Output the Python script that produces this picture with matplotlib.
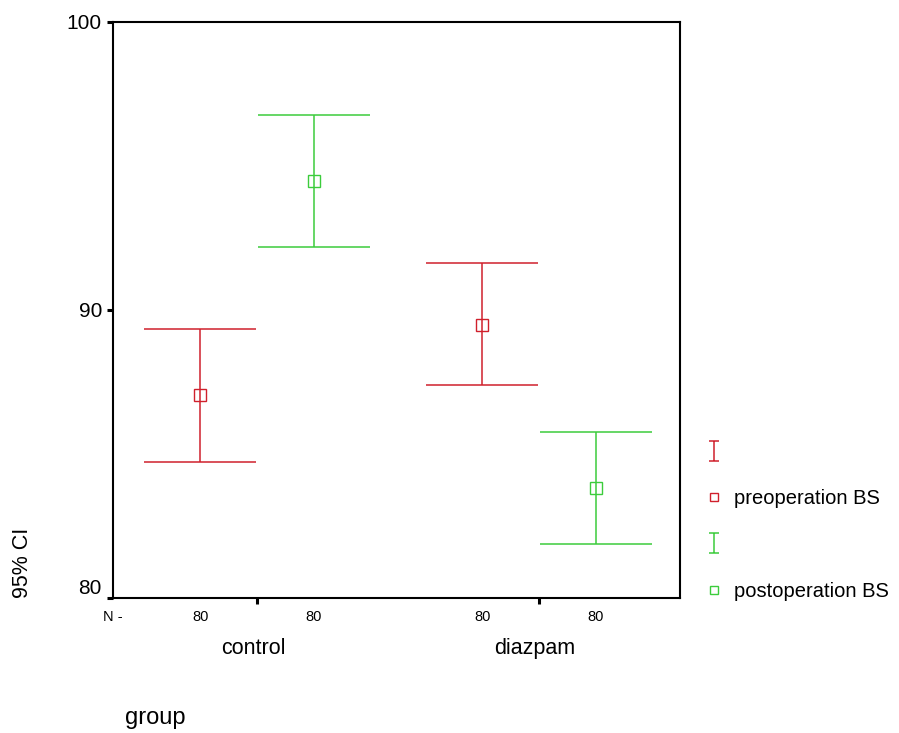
import matplotlib
matplotlib.use('Agg')
import matplotlib.pyplot as plt
import matplotlib.transforms as mtransforms
from matplotlib.path import Path
from matplotlib.lines import Line2D
import numpy as np

plt.rcParams['font.family'] = ['Liberation Sans', 'DejaVu Sans']

groups = ['control', 'diazpam']
series = ['preoperation BS', 'postoperation BS']
colors = ['#d0202c', '#3ccc3c']
# mean, lower and upper limit of the 95% CI, per series, per group
means = [[87.05, 89.48], [94.48, 83.82]]
lower = [[84.72, 87.40], [92.19, 81.88]]
upper = [[89.34, 91.63], [96.77, 85.76]]
counts = [[80, 80], [80, 80]]
yticks = [80, 90, 100]

# "I" shaped marker for the error bar legend entries
ibar = Path([(-0.5, -1), (0.5, -1), (0, -1), (0, 1), (-0.5, 1), (0.5, 1)],
            [Path.MOVETO, Path.LINETO, Path.MOVETO, Path.LINETO,
             Path.MOVETO, Path.LINETO])

fig = plt.figure(figsize=(8.99, 7.33), dpi=100)
ax = fig.add_axes([113 / 899, 135 / 733, 567 / 899, 576 / 733])

xpos = np.arange(1, len(groups) + 1)
offsets = [-0.202, 0.202]
handles = []
labels = []
for i, name in enumerate(series):
    m = np.array(means[i])
    lo = np.array(lower[i])
    hi = np.array(upper[i])
    x = xpos + offsets[i]
    ax.errorbar(x, m, yerr=[m - lo, hi - m], fmt='none',
                ecolor=colors[i], elinewidth=1.1, capsize=40.3, capthick=1.1)
    ax.plot(x, m, 's', ms=8, mfc='none', mec=colors[i], mew=1.0)
    for xi, n in zip(x, counts[i]):
        ax.annotate(str(n), (xi, 0), xycoords=('data', 'axes fraction'),
                    xytext=(0, -14), textcoords='offset points',
                    ha='center', va='center', fontsize=10.5)
    handles += [Line2D([], [], ls='none', marker=ibar, ms=15,
                       mec=colors[i], mew=1.1),
                Line2D([], [], ls='none', marker='s', ms=6, mfc='none',
                       mec=colors[i], mew=1.0)]
    labels += [' ', name]

ax.set_xlim(0.489, 2.5)
ax.set_ylim(80, 100)
ax.set_yticks(yticks)
ax.set_yticklabels([str(t) for t in yticks], fontsize=15)
ax.set_xticks(xpos)
ax.set_xticklabels(groups, fontsize=15.5)
ax.tick_params(axis='y', length=4, width=2.2, pad=4)
ax.tick_params(axis='x', length=4, width=2.2, pad=25)
shift = mtransforms.ScaledTranslation(-4 / 100, 0, fig.dpi_scale_trans)
for lbl in ax.get_xticklabels():
    lbl.set_transform(lbl.get_transform() + shift)
for lbl in ax.get_yticklabels():
    if lbl.get_text() == '80':
        lbl.set_va('bottom')
for sp in ax.spines.values():
    sp.set_linewidth(1.5)

ax.annotate('N -', (0, 0), xycoords='axes fraction', xytext=(0, -14),
            textcoords='offset points', ha='center', va='center',
            fontsize=10.5)

ax.set_xlabel('group', fontsize=17)
ax.xaxis.set_label_coords(0.074, -0.208)
ax.xaxis.label.set_va('center')
ax.set_ylabel('95% CI', fontsize=15.5)
ax.yaxis.set_label_coords(-0.16, 0.0)
ax.yaxis.label.set_va('center')
ax.yaxis.label.set_ha('left')

fig.legend(handles, labels, loc='upper left',
           bbox_to_anchor=(696 / 899, 1 - 433 / 733),
           frameon=False, fontsize=14.5, handlelength=0.8, handletextpad=0.6,
           labelspacing=1.35, borderpad=0)

fig.savefig('out.png', dpi=100)
